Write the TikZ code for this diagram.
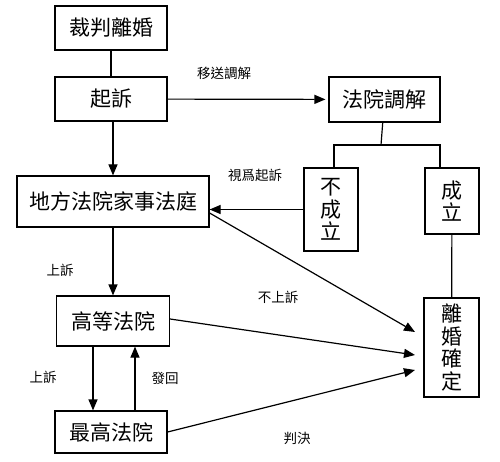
\documentclass[tikz,border=0pt]{standalone}
\usepackage{fontspec}
\newfontfamily\cjk{Noto Sans CJK TC}
\usetikzlibrary{arrows.meta}

\begin{document}
\begin{tikzpicture}[x=1pt, y=-1pt, line width=1.2pt,
    box/.style={draw, rectangle, inner sep=0pt, font=\cjk\fontsize{21}{24}\selectfont},
    vbox/.style={box, align=center, font=\cjk\fontsize{21}{22.5}\selectfont},
    lbl/.style={font=\cjk\fontsize{13.5}{15}\selectfont},
    arr/.style={-{Triangle[length=11pt, width=9pt]}}]
  \useasboundingbox (0,0) rectangle (500,462);

  % left column
  \node[box, minimum width=112pt, minimum height=44pt] (divorce) at (111,28) {裁判離婚};
  \node[box, minimum width=112pt, minimum height=44pt] (sue) at (111,99) {起訴};
  \node[box, minimum width=192pt, minimum height=51pt] (local) at (113,201.5) {地方法院家事法庭};
  \node[box, minimum width=113pt, minimum height=50pt] (high) at (113,321) {高等法院};
  \node[box, minimum width=112pt, minimum height=42pt] (supreme) at (111,432) {最高法院};

  % mediation branch
  \node[box, minimum width=111pt, minimum height=45pt] (mediate) at (384.5,99.5) {法院調解};
  \node[vbox, minimum width=54pt, minimum height=83pt] (fail) at (331,209.5) {不\\成\\立};
  \node[vbox, minimum width=54pt, minimum height=66pt] (ok) at (452,201) {成\\立};
  \node[vbox, minimum width=55pt, minimum height=99pt] (final) at (451.5,347.5) {離\\婚\\確\\定};

  % connectors
  \draw (divorce.south -| sue.north) -- (sue);
  \draw[arr] (sue.south -| local.north) -- (local);
  \draw[arr] (local) -- (high);
  \draw[arr, shorten >=3pt] (sue) -- (mediate);
  \coordinate (split) at (381,145);
  \draw (mediate) -- (split);
  \draw ([xshift=3pt]fail.north) |- (split) -| ([xshift=-12pt]ok.north);
  \draw[arr] (fail) -- (local.east |- fail.west);
  \draw (ok) -- (final);

  \coordinate (in1) at (415,332);
  \coordinate (in2) at (415,355);
  \coordinate (in3) at (415,370);
  \draw[arr] ([yshift=-11.5pt]local.east) -- (in1);
  \draw[arr] ([yshift=2pt]high.east) -- (in2);
  \draw[arr] (supreme.east) -- (in3);

  \draw[arr] ([xshift=-20pt]high.south) -- ([xshift=-18pt]supreme.north);
  \draw[arr] ([xshift=24pt]supreme.north) -- ([xshift=22pt]high.south);

  % labels
  \node[lbl] (l1) at (224,73) {移送調解};
  \node[lbl] (l2) at (255,175) {視爲起訴};
  \node[lbl] (l3) at (60,270) {上訴};
  \node[lbl] (l4) at (43,377) {上訴};
  \node[lbl] (l5) at (165,378) {發回};
  \node[lbl] (l6) at (278,297) {不上訴};
  \node[lbl] (l7) at (297,438) {判決};
\end{tikzpicture}
\end{document}
